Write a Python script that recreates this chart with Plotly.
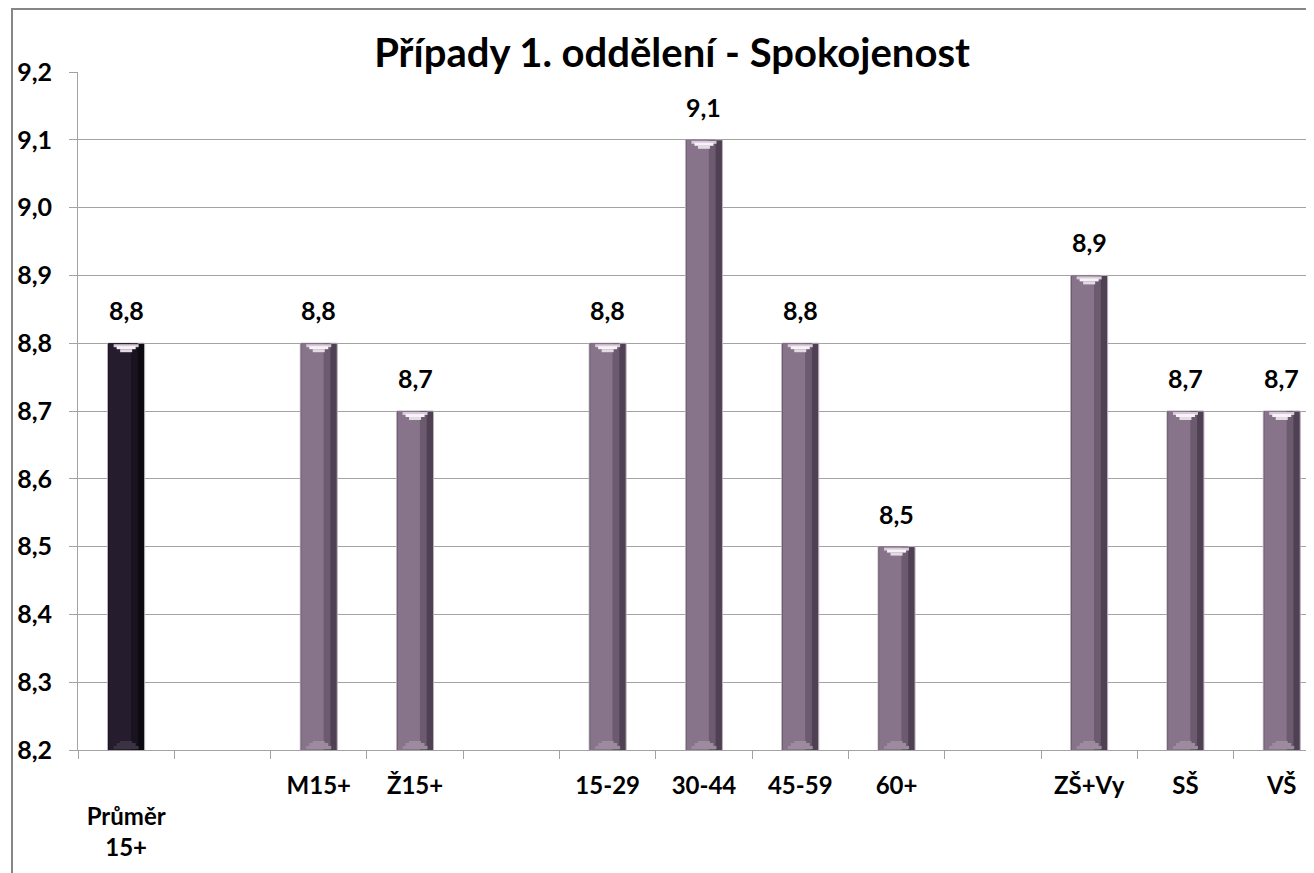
import plotly.graph_objects as go

# ---- data ----
categories = ["<br>Průměr<br>15+", " ", "M15+", "Ž15+", "  ", "15-29", "30-44",
              "45-59", "60+", "   ", "ZŠ+Vy", "SŠ", "VŠ"]
values = [8.8, None, 8.8, 8.7, None, 8.8, 9.1, 8.8, 8.5, None, 8.9, 8.7, 8.7]
title_text = "Případy 1. oddělení - Spokojenost"
y_ticks = [8.2, 8.3, 8.4, 8.5, 8.6, 8.7, 8.8, 8.9, 9.0, 9.1, 9.2]
Y_MIN, Y_MAX = 8.2, 9.2

# ---- styling ----
OFF = 8  # page body margin
W, H = 1314 - OFF, 873 - OFF
ML, MR, MT, MB = 78 - OFF, 0, 72 - OFF, 873 - 750
PW, PH = W - ML - MR, H - MT - MB
FONT = "Lato"
GRID = "#a3a3a3"
CAT_W = 96.3
BAR_W = 37 / CAT_W
PX = (Y_MAX - Y_MIN) / PH  # one pixel in data units

is_first = [i == 0 for i in range(len(categories))]
edge_colors = ["#0d0a11" if f else "#4f4053" for f in is_first]
mid_colors = ["#19131f" if f else "#6c5a6f" for f in is_first]
face_colors = ["#251d2d" if f else "#87738a" for f in is_first]

fig = go.Figure()


def add_bar(y, width, colors, offset=None, base=None, line=None):
    fig.add_trace(go.Bar(
        x=categories, y=y, width=width, offset=offset, base=base,
        marker=dict(color=colors, line=line or dict(width=0)),
        hoverinfo="skip", showlegend=False,
    ))


# body of each bar: dark edge, middle tone, light face
add_bar(values, BAR_W, edge_colors, line=dict(color="#bdb4bd", width=1))
add_bar(values, BAR_W * 0.8, mid_colors, offset=-BAR_W / 2 + 0.006)
add_bar(values, BAR_W * 0.6, face_colors, offset=-BAR_W / 2 + 0.012)

# bevel highlights (stepped trapezoids) at the top and bottom of each bar
top_steps = [(25, 1, 3, "#d8cbd9"), (19, 3, 3, "#f7f2f7"), (12, 6, 3, "#e4d9e5")]
for wpx, start, hpx, col in top_steps:
    add_bar([None if v is None else hpx * PX for v in values], wpx / CAT_W,
            [col] * len(categories),
            base=[None if v is None else v - (start + hpx) * PX for v in values])

bot_steps = [(25, 1, 3), (19, 4, 3), (12, 7, 2)]
for wpx, start, hpx in bot_steps:
    add_bar([None if v is None else hpx * PX for v in values], wpx / CAT_W,
            ["#3b3243" if f else "#9c8a9e" for f in is_first],
            base=[None if v is None else Y_MIN + start * PX for v in values])

# value labels
for c, v in zip(categories, values):
    if v is None:
        continue
    fig.add_annotation(
        x=c, y=v, yanchor="bottom", yshift=16, showarrow=False,
        text=f"{v:.1f}".replace(".", ","),
        font=dict(family=FONT, size=25, color="#000000", weight="bold"),
    )

# outer chart frame
fig.add_shape(
    type="rect", xref="paper", yref="paper",
    x0=(12 - OFF - ML) / PW, x1=1.1,
    y0=-0.5, y1=1 + (MT - 1) / PH,
    line=dict(color="#868686", width=2), fillcolor="rgba(0,0,0,0)", layer="below",
)

fig.update_layout(
    width=W, height=H,
    margin=dict(l=ML, r=MR, t=MT, b=MB, pad=0),
    paper_bgcolor="white", plot_bgcolor="white",
    barmode="overlay",
    separators=", ",
    showlegend=False,
    title=dict(
        text=title_text, x=(672 - OFF) / W, xanchor="center", xref="container",
        y=1 - (53 - OFF) / H, yanchor="middle", yref="container",
        font=dict(family=FONT, size=40, color="#000000", weight="bold"),
    ),
    font=dict(family=FONT, color="#000000"),
)

fig.update_xaxes(
    type="category", categoryorder="array", categoryarray=categories,
    range=[-0.5, PW / CAT_W - 0.5],
    tickson="boundaries", ticks="outside", ticklen=8, tickcolor=GRID,
    showline=True, linecolor=GRID, linewidth=1,
    showgrid=False,
    tickfont=dict(family=FONT, size=24, color="#000000", weight="bold"),
    ticklabelstandoff=14,
)
fig.update_yaxes(
    range=[Y_MIN, Y_MAX], tickvals=y_ticks, tickformat=".1f",
    ticks="outside", ticklen=8, tickcolor=GRID,
    showline=True, linecolor=GRID, linewidth=1,
    showgrid=True, gridcolor=GRID, gridwidth=1,
    zeroline=False,
    tickfont=dict(family=FONT, size=25, color="#000000", weight="bold"),
    ticklabelstandoff=12,
)

fig.write_html("out.html")
